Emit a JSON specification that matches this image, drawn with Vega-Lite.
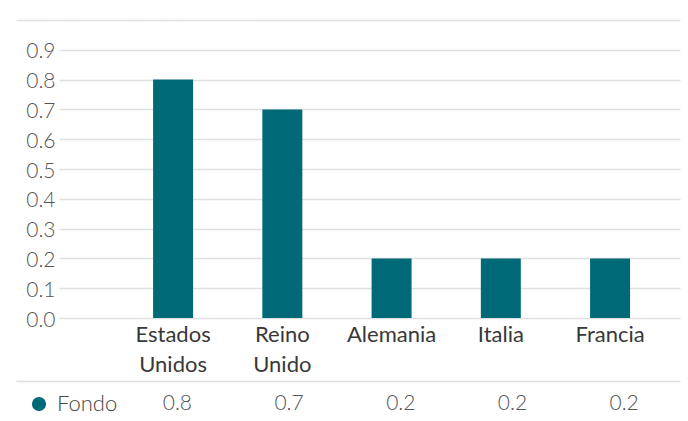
{
  "$schema": "https://vega.github.io/schema/vega-lite/v6.json",
  "padding": {"left": 16, "top": 20, "right": 8, "bottom": 0},
  "bounds": "flush",
  "spacing": 63,
  "config": {
    "font": "Lato",
    "view": {"stroke": null}
  },
  "datasets": {
    "fondo": [
      {"pais": "Estados Unidos", "serie": "Fondo", "valor": 0.8},
      {"pais": "Reino Unido", "serie": "Fondo", "valor": 0.7},
      {"pais": "Alemania", "serie": "Fondo", "valor": 0.2},
      {"pais": "Italia", "serie": "Fondo", "valor": 0.2},
      {"pais": "Francia", "serie": "Fondo", "valor": 0.2}
    ]
  },
  "resolve": {
    "scale": {"x": "independent", "color": "independent"},
    "axis": {"x": "independent"},
    "legend": {"color": "independent"}
  },
  "vconcat": [
    {
      "width": 664,
      "height": 298,
      "data": {"name": "fondo"},
      "mark": {"type": "bar", "color": "#006978"},
      "encoding": {
        "x": {
          "field": "pais",
          "type": "nominal",
          "sort": null,
          "scale": {"type": "band", "paddingInner": 0.634, "paddingOuter": 0.856, "align": 0.733},
          "axis": {
            "title": null,
            "domain": false,
            "ticks": false,
            "labelAngle": 0,
            "labelFontSize": 22,
            "labelColor": "#383838",
            "labelLineHeight": 30,
            "labelPadding": 6,
            "labelExpr": "split(datum.label, ' ')"
          }
        },
        "y": {
          "field": "valor",
          "type": "quantitative",
          "scale": {"domain": [0, 1], "nice": false},
          "axis": {
            "title": null,
            "values": [0, 0.1, 0.2, 0.3, 0.4, 0.5, 0.6, 0.7, 0.8, 0.9, 1],
            "domain": false,
            "ticks": false,
            "tickSize": 0,
            "labelPadding": -39,
            "labelOffset": 2,
            "labelFontSize": 21,
            "labelFontWeight": 300,
            "labelColor": "#555555",
            "labelExpr": "datum.value == 1 ? '' : format(datum.value, '.1f')",
            "gridColor": "#e0e0e0",
            "gridWidth": 1.5,
            "gridDash": {"condition": {"test": "datum.value == 1", "value": [1, 0]}, "value": [0, 43, 1000, 0]}
          }
        }
      }
    },
    {
      "width": 664,
      "height": 40,
      "data": {"name": "fondo"},
      "encoding": {
        "x": {
          "field": "pais",
          "type": "nominal",
          "sort": null,
          "scale": {"type": "band", "paddingInner": 0, "paddingOuter": 0.4723, "align": 1},
          "axis": {
            "orient": "top",
            "title": null,
            "labels": false,
            "ticks": false,
            "domainColor": "#e0e0e0",
            "domainWidth": 1.5
          }
        }
      },
      "layer": [
        {
          "mark": {"type": "text", "fontSize": 21, "fontWeight": 300, "color": "#555555", "baseline": "middle", "dy": 3},
          "encoding": {"text": {"field": "valor", "type": "quantitative", "format": ".1f"}}
        },
        {
          "mark": {"type": "text"},
          "encoding": {
            "text": {"value": ""},
            "color": {
              "field": "serie",
              "type": "nominal",
              "scale": {"range": ["#006978"]},
              "legend": {
                "title": null,
                "orient": "left",
                "offset": -114,
                "symbolType": "circle",
                "symbolSize": 200,
                "symbolStrokeWidth": 0,
                "labelFontSize": 22,
                "labelFontWeight": 300,
                "labelColor": "#444444",
                "labelOffset": 7,
                "padding": 12
              }
            }
          }
        }
      ]
    }
  ]
}
